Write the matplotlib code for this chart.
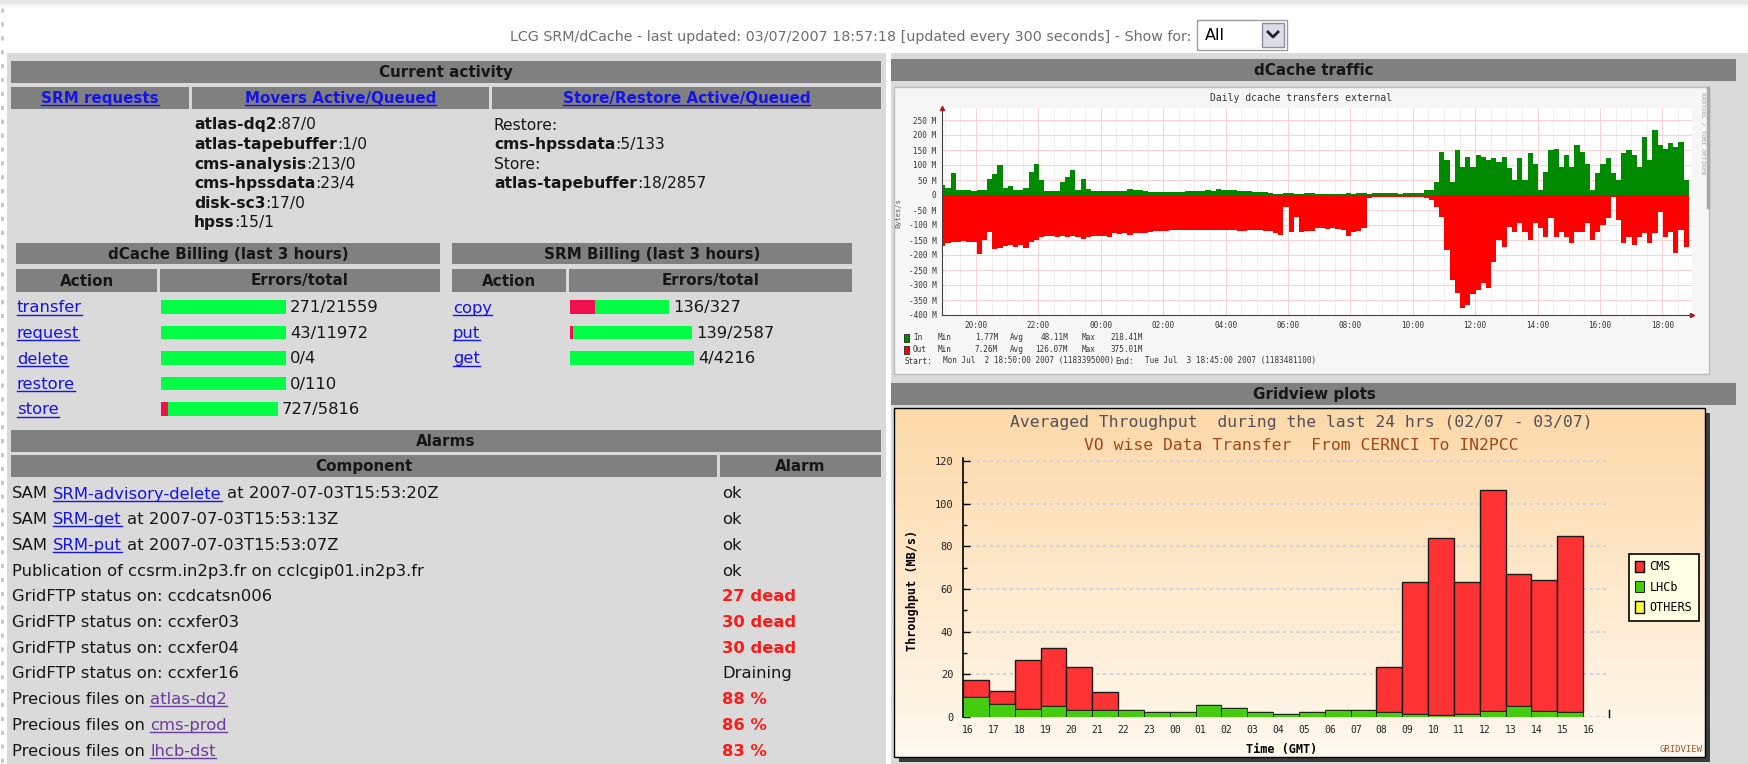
import numpy as np
import matplotlib.pyplot as plt
from matplotlib.patches import Rectangle

W, H = 1749, 764

# ---------------- data ----------------
header_text = ("LCG SRM/dCache - last updated: 03/07/2007 18:57:18 "
               "[updated every 300 seconds] - Show for:")
show_for = "All"

activity_heads = ["SRM requests", "Movers Active/Queued", "Store/Restore Active/Queued"]
mover_pools = ["atlas-dq2", "atlas-tapebuffer", "cms-analysis", "cms-hpssdata", "disk-sc3", "hpss"]
mover_counts = ["87/0", "1/0", "213/0", "23/4", "17/0", "15/1"]
store_modes = ["Restore:", "Store:"]
store_pools = ["cms-hpssdata", "atlas-tapebuffer"]
store_counts = ["5/133", "18/2857"]

dcache_actions = ["transfer", "request", "delete", "restore", "store"]
dcache_errors = [271, 43, 0, 0, 727]
dcache_totals = [21559, 11972, 4, 110, 5816]
dcache_bar_len = [125, 125, 125, 125, 117]
dcache_red_len = [0, 0, 0, 0, 7]

srm_actions = ["copy", "put", "get"]
srm_errors = [136, 139, 4]
srm_totals = [327, 2587, 4216]
srm_bar_len = [99, 122, 124]
srm_red_len = [25, 3, 0]

alarm_prefix = ["SAM ", "SAM ", "SAM ",
                "Publication of ccsrm.in2p3.fr on cclcgip01.in2p3.fr",
                "GridFTP status on: ccdcatsn006", "GridFTP status on: ccxfer03",
                "GridFTP status on: ccxfer04", "GridFTP status on: ccxfer16",
                "Precious files on ", "Precious files on ", "Precious files on "]
alarm_link = ["SRM-advisory-delete", "SRM-get", "SRM-put", "", "", "", "", "",
              "atlas-dq2", "cms-prod", "lhcb-dst"]
alarm_suffix = [" at 2007-07-03T15:53:20Z", " at 2007-07-03T15:53:13Z",
                " at 2007-07-03T15:53:07Z", "", "", "", "", "", "", "", ""]
alarm_status = ["ok", "ok", "ok", "ok", "27 dead", "30 dead", "30 dead",
                "Draining", "88 %", "86 %", "83 %"]

# dCache traffic, 10 minute samples from 18:51 (02/07), MB/s
traffic_start = 18.85
traffic_in = [33, 25, 72, 17, 17, 16, 15, 17, 18, 55,
              70, 100, 22, 30, 17, 17, 25, 78, 105, 50,
              14, 14, 15, 44, 60, 83, 17, 55, 20, 13,
              15, 13, 12, 13, 13, 13, 19, 18, 17, 12,
              11, 11, 10, 9, 10, 10, 9, 14, 13, 13,
              15, 16, 15, 19, 18, 17, 16, 15, 13, 12,
              11, 10, 9, 6, 5, 4, 6, 6, 5, 5,
              6, 7, 5, 5, 4, 4, 5, 5, 6, 5,
              6, 6, 5, 6, 6, 6, 7, 6, 5, 8,
              7, 6, 7, 16, 17, 44, 144, 117, 44, 150,
              94, 128, 94, 133, 128, 117, 122, 111, 128, 89,
              50, 122, 50, 139, 105, 17, 78, 150, 155, 94,
              133, 94, 167, 144, 105, 17, 72, 105, 122, 72,
              50, 139, 150, 133, 94, 194, 117, 218, 167, 155,
              172, 161, 178, 50]
traffic_out = [-170, -160, -155, -155, -152, -155, -158, -195, -150, -122,
               -181, -175, -170, -165, -172, -165, -178, -158, -150, -139,
               -135, -137, -139, -137, -140, -136, -139, -148, -140, -137,
               -135, -137, -140, -128, -130, -128, -133, -127, -125, -126,
               -124, -121, -119, -120, -118, -117, -118, -117, -116, -118,
               -117, -115, -117, -116, -118, -117, -118, -120, -119, -118,
               -117, -118, -119, -120, -128, -133, -39, -122, -72, -122,
               -120, -121, -111, -111, -112, -111, -112, -115, -137, -122,
               -120, -111, -11, -7, -6, -6, -6, -5, -6, -5,
               -6, -6, -7, -10, -17, -39, -72, -183, -283, -328,
               -375, -367, -330, -317, -294, -311, -222, -150, -172, -106,
               -122, -94, -122, -150, -94, -111, -139, -78, -139, -122,
               -139, -161, -122, -122, -94, -150, -122, -100, -78, -6,
               -83, -161, -139, -167, -139, -128, -161, -128, -55, -139,
               -122, -194, -117, -172]
traffic_hours = ["20:00", "22:00", "00:00", "02:00", "04:00", "06:00",
                 "08:00", "10:00", "12:00", "14:00", "16:00", "18:00"]
traffic_legend = [("In", "1.77M", "48.11M", "218.41M"),
                  ("Out", "7.26M", "126.07M", "375.01M")]

# Gridview hourly throughput (MB/s)
grid_hours = ["16", "17", "18", "19", "20", "21", "22", "23", "00", "01", "02", "03",
              "04", "05", "06", "07", "08", "09", "10", "11", "12", "13", "14", "15", "16"]
lhcb_rate = [9.2, 6.1, 3.9, 5.3, 3.4, 3.4, 3.1, 2.3, 2.2, 5.6, 4.1, 2.3,
             1.6, 2.2, 3.1, 3.1, 2.2, 1.6, 0.8, 1.4, 2.7, 5.3, 2.7, 2.3]
cms_rate = [8.3, 5.9, 23.0, 27.0, 19.9, 8.2, 0, 0, 0, 0, 0, 0,
            0, 0, 0, 0, 21.1, 61.7, 83.1, 61.7, 103.9, 61.7, 61.7, 82.4]
others_rate = [0] * 24

# ---------------- page ----------------
INK = '#161616'
LINK = '#1414e6'
VISITED = '#6b3c9e'
BAR_GRAY = '#808080'
PANEL = '#dadada'
GREEN = '#00ff44'
RED = '#f0104c'
BODY = 11.8
LIST = 11.2
HEAD = 10.9

fig = plt.figure(figsize=(W / 100, H / 100), dpi=100)
fig.patch.set_facecolor('white')
page = fig.add_axes([0, 0, 1, 1])
page.set_xlim(0, W)
page.set_ylim(H, 0)
page.set_autoscale_on(False)
page.axis('off')
rend = fig.canvas.get_renderer()


def px_box(x0, y0, x1, y1):
    return [x0 / W, 1 - y1 / H, (x1 - x0) / W, (y1 - y0) / H]


def rect(x0, y0, x1, y1, color, ec='none', lw=1, z=1):
    page.add_patch(Rectangle((x0, y0), x1 - x0, y1 - y0, facecolor=color,
                             edgecolor=ec, lw=lw, zorder=z))


def write(x, y, parts, size=BODY):
    # parts are drawn one after the other; spaces at the ends are kept as gaps
    sp = 0.318 * size * 100 / 72
    for txt, color, bold, under in parts:
        if not txt:
            continue
        core = txt.strip(' ')
        lead = len(txt) - len(txt.lstrip(' '))
        trail = len(txt) - len(txt.rstrip(' '))
        x += lead * sp
        t = page.text(x, y + 5.5, core, fontsize=size, color=color,
                      fontweight='bold' if bold else 'normal', ha='left', va='baseline', zorder=5)
        bb = t.get_window_extent(rend)
        if under:
            page.plot([bb.x0, bb.x1], [y + 7.5, y + 7.5], color=color, lw=1, zorder=5)
        x = bb.x1 + trail * sp
    return x


def centred(cx, cy, txt, color=INK, under=False, size=HEAD):
    t = page.text(cx, cy + 5, txt, fontsize=size, color=color, fontweight='bold',
                  ha='center', va='baseline', zorder=5)
    if under:
        bb = t.get_window_extent(rend)
        page.plot([bb.x0, bb.x1], [cy + 7, cy + 7], color=color, lw=1, zorder=5)


# background
rect(0, 0, W, 5, '#e8e8e8')
page.plot([0, W], [6, 6], color='#f2f2f2', lw=1)
page.plot([2, 2], [8, H], color='#c4c4c4', lw=2, ls=(0, (1.5, 3.5)))
rect(7, 53, 886, H, PANEL)
rect(891, 53, W, H, PANEL)

# header line
page.text(1191, 37, header_text, fontsize=10.3, color='#6e6e6e', ha='right', va='center')
rect(1197, 20, 1287, 50, 'white', ec='#9c9c9c')
rect(1262, 23, 1284, 47, '#dcdce6', ec='#8e8ea0')
page.plot([1268, 1273, 1278], [32, 37, 32], color='#20202a', lw=2, zorder=6)
page.text(1205, 36, show_for, fontsize=11.5, color='black', ha='left', va='center')

# ---- Current activity ----
rect(11, 61, 881, 83, BAR_GRAY)
centred(446, 72, "Current activity")
cells = [(11, 189), (192, 489), (492, 881)]
for (c0, c1), name in zip(cells, activity_heads):
    rect(c0, 87, c1, 109, BAR_GRAY)
    centred((c0 + c1) / 2, 98, name, color=LINK, under=True)

row_gap = 19.6
for i, (pool, cnt) in enumerate(zip(mover_pools, mover_counts)):
    write(194, 124 + i * row_gap, [(pool, INK, True, False), (":" + cnt, INK, False, False)],
          size=LIST)
for j, (mode, pool, cnt) in enumerate(zip(store_modes, store_pools, store_counts)):
    y = 124 + 2 * j * row_gap
    write(494, y, [(mode, INK, False, False)], size=LIST)
    write(494, y + row_gap, [(pool, INK, True, False), (":" + cnt, INK, False, False)],
          size=LIST)

# ---- Billing tables ----
bill_rows = [307, 332.5, 358, 383.5, 409]


def billing(x0, xs, x1, title, actions, errors, totals, bar_len, red_len):
    rect(x0, 243, x1, 264, BAR_GRAY)
    centred((x0 + x1) / 2, 253.5, title)
    rect(x0, 269, xs - 2, 292, BAR_GRAY)
    rect(xs + 1, 269, x1, 292, BAR_GRAY)
    centred((x0 + xs - 2) / 2, 280.5, "Action")
    centred((xs + 1 + x1) / 2, 280.5, "Errors/total")
    for i, a in enumerate(actions):
        write(x0 + 1, bill_rows[i], [(a, LINK, False, True)])
    n = len(actions)
    ax = fig.add_axes(px_box(xs + 2, bill_rows[0] - 12.75, xs + 262, bill_rows[n - 1] + 12.75))
    ax.set_xlim(0, 260)
    ax.set_ylim(n - 0.5, -0.5)
    ax.axis('off')
    ax.barh(range(n), bar_len, height=0.52, color=GREEN)
    ax.barh(range(n), red_len, height=0.52, color=RED)
    for i in range(n):
        ax.text(bar_len[i] + 4, i + 0.02, f"{errors[i]}/{totals[i]}", fontsize=BODY,
                color=INK, va='center', ha='left')


billing(16, 159, 440, "dCache Billing (last 3 hours)", dcache_actions, dcache_errors,
        dcache_totals, dcache_bar_len, dcache_red_len)
billing(452, 568, 852, "SRM Billing (last 3 hours)", srm_actions, srm_errors,
        srm_totals, srm_bar_len, srm_red_len)

# ---- Alarms ----
rect(11, 430, 881, 452, BAR_GRAY)
centred(446, 441, "Alarms")
rect(11, 455, 717, 477, BAR_GRAY)
rect(720, 455, 881, 477, BAR_GRAY)
centred(364, 466, "Component")
centred(800, 466, "Alarm")
for i in range(len(alarm_status)):
    y = 493 + i * 25.7
    link_col = VISITED if alarm_prefix[i].startswith("Precious") else LINK
    write(12, y, [(alarm_prefix[i], INK, False, False), (alarm_link[i], link_col, False, True),
                  (alarm_suffix[i], INK, False, False)])
    bad = ('dead' in alarm_status[i]) or ('%' in alarm_status[i])
    write(722, y, [(alarm_status[i], '#ff1a1a' if bad else INK, bad, False)])

# ---- dCache traffic ----
rect(891, 59, 1736, 81, BAR_GRAY)
centred(1314, 70, "dCache traffic")
rect(894, 87, 1709, 374, '#f6f6f6', ec='#bcbcbc', lw=1)
page.plot([1708, 1708], [88, 207], color='#a8a8a8', lw=2.5)
page.text(1703, 92, "RRDTOOL / TOBI OETIKER", rotation=270, fontsize=4.5, color='#a0a0a0',
          ha='center', va='top', family='DejaVu Sans Mono')
page.text(1301, 98, "Daily dcache transfers external", fontsize=7, color='#333333',
          ha='center', va='center', family='DejaVu Sans Mono')

tx = fig.add_axes(px_box(942, 108, 1692, 315))
tx.set_facecolor('white')
step = 1 / 6
t = traffic_start + step * np.arange(len(traffic_in) + 1)
tx.fill_between(t, 0, traffic_in + traffic_in[-1:], step='post', color='#008a00', lw=0, zorder=3)
tx.fill_between(t, 0, traffic_out + traffic_out[-1:], step='post', color='#ff0000', lw=0, zorder=3)
tx.set_xlim(18.91, 42.95)
tx.set_ylim(-400, 290)
tx.set_xticks(np.arange(20, 43, 2), traffic_hours)
tx.set_xticks(np.arange(19, 43, 0.5), minor=True)
yt = np.arange(-400, 251, 50)
tx.set_yticks(yt, [("%d M" % v) if v else "0" for v in yt])
tx.grid(which='minor', color='#ededed', lw=0.6, zorder=1)
tx.grid(which='major', color='#fbd0d0', lw=0.7, zorder=2)
tx.tick_params(which='both', length=0, labelsize=5.5, colors='#333333', pad=4)
for lab in tx.get_xticklabels() + tx.get_yticklabels():
    lab.set_family('DejaVu Sans Mono')
for s in ['top', 'right']:
    tx.spines[s].set_visible(False)
for s in ['left', 'bottom']:
    tx.spines[s].set_color('#404040')
    tx.spines[s].set_linewidth(0.8)
    tx.spines[s].set_zorder(4)
tx.plot([18.91], [290], marker='^', ms=3, color='#a02020', clip_on=False, zorder=5)
tx.plot([42.95], [-400], marker='>', ms=3, color='#a02020', clip_on=False, zorder=5)
tx.set_ylabel("Bytes/s", fontsize=5, color='#555555', family='DejaVu Sans Mono')
tx.yaxis.set_label_coords(-0.054, 0.49)

for k, (name, vmin, vavg, vmax) in enumerate(traffic_legend):
    y = 338 + 12 * k
    rect(904, y - 4, 909, y + 4, ['#008a00', '#ff0000'][k], ec='#202020', lw=0.6)
    for x, s, ha in [(913, name, 'left'), (938, "Min", 'left'), (998, vmin, 'right'),
                     (1010, "Avg", 'left'), (1068, vavg, 'right'), (1082, "Max", 'left'),
                     (1143, vmax, 'right')]:
        page.text(x, y, s, fontsize=5.5, ha=ha, va='center', color='#333333',
                  family='DejaVu Sans Mono')
for x, s in [(905, "Start:"), (943, "Mon Jul  2 18:50:00 2007 (1183395000)"),
             (1115, "End:"), (1145, "Tue Jul  3 18:45:00 2007 (1183481100)")]:
    page.text(x, 361, s, fontsize=5.5, ha='left', va='center', color='#333333',
              family='DejaVu Sans Mono')

# ---- Gridview ----
rect(891, 383, 1736, 405, BAR_GRAY)
centred(1314, 394, "Gridview plots")
rect(899, 413, 1710, 762, '#3c3c3c')
top_c = np.array([0.99, 0.85, 0.66])
bot_c = np.array([1.0, 0.975, 0.935])
frac = np.linspace(0, 1, 256)[:, None]
grad = (top_c + (bot_c - top_c) * frac)[:, None, :]
page.imshow(grad, extent=(894, 1705, 757, 408), aspect='auto', zorder=2)
rect(894, 408, 1705, 757, 'none', ec='black', lw=1, z=3)
page.text(1301, 423, "Averaged Throughput  during the last 24 hrs (02/07 - 03/07)",
          fontsize=11.8, color='#545058', ha='center', va='center', family='DejaVu Sans Mono', zorder=4)
page.text(1301, 446, "VO wise Data Transfer  From CERNCI To IN2PCC",
          fontsize=11.8, color='#a4461c', ha='center', va='center', family='DejaVu Sans Mono', zorder=4)
page.text(1703, 749, "GRIDVIEW", fontsize=6.5, color='#b0582a', ha='right', va='center',
          family='DejaVu Sans Mono', zorder=4)

gx = fig.add_axes(px_box(963, 458, 1609, 717))
gx.patch.set_alpha(0)
xs = np.arange(24)
lhcb = np.array(lhcb_rate)
cms = np.array(cms_rate)
b_cms = gx.bar(xs, cms, width=1, align='edge', bottom=lhcb, color='#ff3333',
               edgecolor='#1a1a1a', lw=1, zorder=3)
b_lhcb = gx.bar(xs, lhcb, width=1, align='edge', color='#44cc11', edgecolor='#1a1a1a',
                lw=0.6, zorder=3)
b_oth = gx.bar(xs, others_rate, width=1, align='edge', bottom=lhcb + cms, color='#ffff33',
               edgecolor='none', zorder=3)
gx.set_xlim(0, 25)
gx.set_ylim(0, 121.4)
gx.set_yticks(np.arange(0, 121, 20))
gx.set_yticks(np.arange(10, 121, 20), minor=True)
gx.set_xticks(np.arange(25) + 0.2, grid_hours)
gx.yaxis.grid(True, color='#c8d2e4', lw=1.2, ls=(0, (2, 2)), zorder=1)
gx.set_axisbelow(True)
gx.tick_params(axis='y', which='major', direction='in', length=5, width=1, labelsize=7.5, pad=7)
gx.tick_params(axis='y', which='minor', direction='in', length=3, width=1)
gx.tick_params(axis='x', length=0, labelsize=7, pad=6)
for lab in gx.get_xticklabels() + gx.get_yticklabels():
    lab.set_family('DejaVu Sans Mono')
    lab.set_color('#222222')
for s in ['top', 'right', 'bottom']:
    gx.spines[s].set_visible(False)
gx.spines['left'].set_linewidth(1.2)
gx.plot([25, 25], [0, 3.5], color='black', lw=1, clip_on=False)
gx.set_ylabel("Throughput (MB/s)", fontsize=8.5, fontweight='bold', family='DejaVu Sans Mono')
gx.yaxis.set_label_coords(-0.068, 0.49)
gx.set_xlabel("Time (GMT)", fontsize=8.5, fontweight='bold', family='DejaVu Sans Mono')
gx.xaxis.set_label_coords(0.494, -0.10)
leg = gx.legend([b_cms, b_lhcb, b_oth], ["CMS", "LHCb", "OTHERS"], loc='upper left',
                bbox_to_anchor=(1629 / W, 1 - 554 / H), bbox_transform=fig.transFigure,
                prop={'family': 'DejaVu Sans Mono', 'size': 8.5}, frameon=True, fancybox=False,
                edgecolor='black', facecolor='#ffffe4', framealpha=1, handlelength=0.7,
                handleheight=1.1, handletextpad=0.5, labelspacing=0.62, borderpad=0.55,
                borderaxespad=0)
leg.get_frame().set_linewidth(1.2)
for p in leg.get_patches():
    p.set_edgecolor('black')

page.set_xlim(0, W)
page.set_ylim(H, 0)
fig.savefig("out.png", dpi=100)
